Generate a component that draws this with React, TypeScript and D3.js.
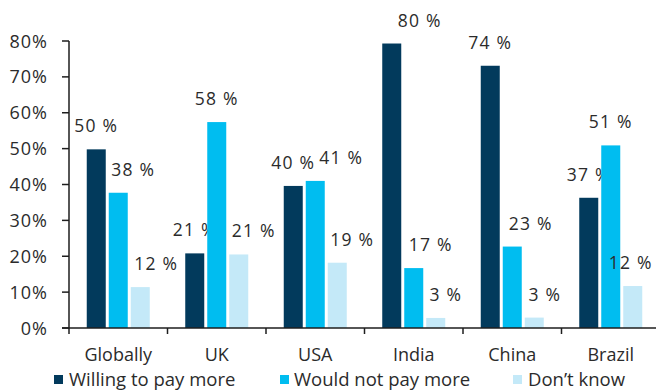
import React from "react";
import * as d3 from "d3";

const categories = ["Globally", "UK", "USA", "India", "China", "Brazil"];
const seriesNames = ["Willing to pay more", "Would not pay more", "Don\u2019t know"];
const willing = [49.8, 20.8, 39.6, 79.3, 73.1, 36.3];
const wouldNot = [37.7, 57.4, 41.0, 16.7, 22.7, 50.9];
const dontKnow = [11.4, 20.5, 18.2, 2.8, 2.9, 11.7];
const willingLabels = [50, 21, 40, 80, 74, 37];
const wouldNotLabels = [38, 58, 41, 17, 23, 51];
const dontKnowLabels = [12, 21, 19, 3, 3, 12];
const yTicks = [0, 10, 20, 30, 40, 50, 60, 70, 80];

// label horizontal nudges (layout only), per series per category
const labelShift = [
  [0, 0, 0, 28, 0, 0],
  [15, 0, 26, 17, 18.5, 0],
  [16, 15, 15, 10, 10.5, -2],
];

const colors = ["#023a5c", "#00bdf0", "#c4e9f8"];
const FONT = "'Open Sans', sans-serif";
const TEXT = "#2b2b2b";

export default function App() {
  const W = 656, H = 392;
  const x0 = 69, band = 98.5;
  const x = d3.scaleBand<string>().domain(categories).range([x0, x0 + band * categories.length]).paddingInner(0).paddingOuter(0);
  const y = d3.scaleLinear().domain([0, 80]).range([328, 41]);
  const groupInner = d3.scaleBand<number>().domain([0, 1, 2]).range([17.75, band - 17.75]).paddingInner(3 / 22).paddingOuter(0);
  const series = [willing, wouldNot, dontKnow];
  const labels = [willingLabels, wouldNotLabels, dontKnowLabels];

  const legendItems = [
    { sx: 54, tx: 69 },
    { sx: 280, tx: 294 },
    { sx: 513, tx: 528 },
  ];

  return (
    <svg width={W} height={H} style={{ position: "absolute", left: 0, top: 0, background: "#fff" }}>
      {series.map((vals, si) =>
        vals.map((v, ci) => {
          const bx = (x(categories[ci]) as number) + (groupInner(si) as number);
          const bw = groupInner.bandwidth();
          return (
            <g key={`b${si}-${ci}`}>
              <rect x={bx} y={y(v)} width={bw} height={y(0) - y(v)} fill={colors[si]} />
              <text
                x={bx + bw / 2 + labelShift[si][ci]}
                y={y(v) - 17}
                textAnchor="middle"
                fontFamily={FONT}
                fontSize={17.5}
                letterSpacing={1.2}
                fill={TEXT}
              >
                {labels[si][ci]} %
              </text>
            </g>
          );
        })
      )}
      {/* y axis */}
      <line x1={x0} x2={x0} y1={y(80)} y2={y(0) + 6} stroke="#1e1e1e" strokeWidth={1.5} />
      {yTicks.map((t) => (
        <g key={`yt${t}`}>
          <line x1={x0 - 7} x2={x0} y1={y(t)} y2={y(t)} stroke="#1e1e1e" strokeWidth={1.5} />
          <text x={48} y={y(t) + 6.5} textAnchor="end" fontFamily={FONT} fontSize={18} letterSpacing={1} fill={TEXT}>
            {t}%
          </text>
        </g>
      ))}
      {/* x axis */}
      <line x1={x0 - 7} x2={W} y1={y(0)} y2={y(0)} stroke="#1e1e1e" strokeWidth={1.5} />
      {categories.map((c, i) => (
        <g key={`xt${c}`}>
          {i > 0 && <line x1={x(c) as number} x2={x(c) as number} y1={y(0)} y2={y(0) + 6} stroke="#1e1e1e" strokeWidth={1.5} />}
          <text x={(x(c) as number) + band / 2} y={361} textAnchor="middle" fontFamily={FONT} fontSize={18} fill={TEXT}>
            {c}
          </text>
        </g>
      ))}
      {/* legend */}
      {seriesNames.map((n, i) => (
        <g key={`lg${i}`}>
          <rect x={legendItems[i].sx} y={375} width={9} height={9} fill={colors[i]} />
          <text x={legendItems[i].tx} y={385.5} fontFamily={FONT} fontSize={18.5} fill={TEXT}>
            {n}
          </text>
        </g>
      ))}
    </svg>
  );
}
